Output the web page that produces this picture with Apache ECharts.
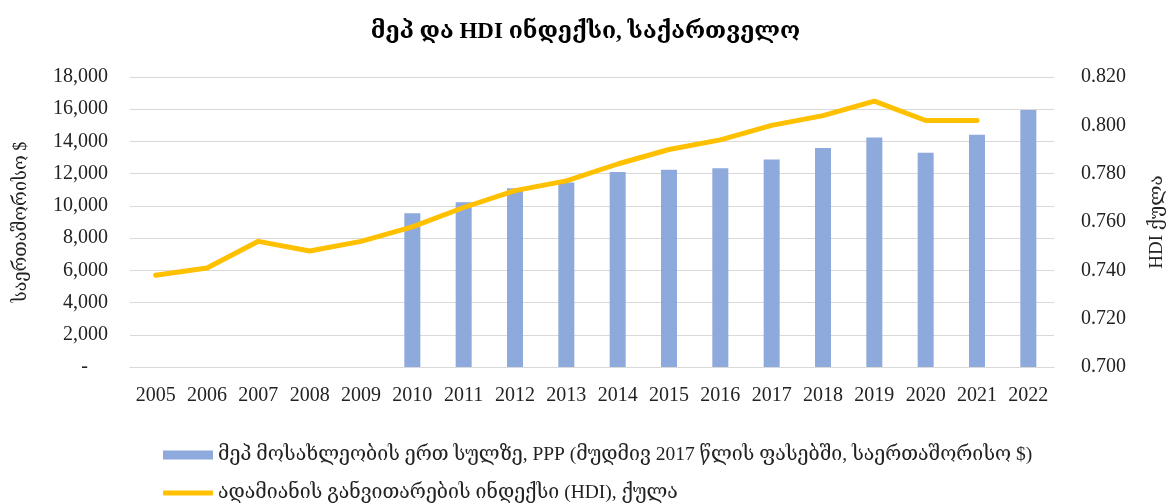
<!DOCTYPE html>
<html>
<head>
<meta charset="utf-8">
<script src="https://cdn.jsdelivr.net/npm/echarts@6/dist/echarts.min.js"></script>
<style>html,body{margin:0;padding:0;background:#fff}#c{width:1171px;height:504px}</style>
</head>
<body>
<div id="c"></div>
<script>
const years = ['2005','2006','2007','2008','2009','2010','2011','2012','2013','2014','2015','2016','2017','2018','2019','2020','2021','2022'];
const gdpPerCapita = [null,null,null,null,null,9550,10230,11100,11450,12100,12250,12330,12880,13600,14250,13300,14420,15950];
const hdi = [0.738,0.741,0.752,0.748,0.752,0.758,0.766,0.773,0.777,0.784,0.790,0.794,0.800,0.804,0.810,0.802,0.802,null];
const titleText = 'მეპ და HDI ინდექსი, საქართველო';
const barName = 'მეპ მოსახლეობის ერთ სულზე, PPP (მუდმივ 2017 წლის ფასებში, საერთაშორისო $)';
const lineName = 'ადამიანის განვითარების ინდექსი (HDI), ქულა';
const leftAxisName = 'საერთაშორისო $';
const rightAxisName = 'HDI ქულა';

const FONT = "'Liberation Serif', 'DejaVu Serif', serif";
const chart = echarts.init(document.getElementById('c'), null, {renderer: 'canvas'});
chart.setOption({
  animation: false,
  backgroundColor: '#fff',
  textStyle: {fontFamily: FONT},
  title: {
    text: titleText, left: 'center', top: 16,
    textStyle: {fontFamily: FONT, fontSize: 23, fontWeight: 'bold', color: '#000'}
  },
  grid: {left: 130, right: 117, top: 77, bottom: 137, containLabel: false, outerBoundsMode: 'none'},
  legend: [
    {
      data: [{name: barName, icon: 'rect'}],
      left: 158, top: 440, itemWidth: 50, itemHeight: 9,
      textStyle: {fontFamily: FONT, fontSize: 19.5, color: '#222'}
    },
    {
      data: [{name: lineName, icon: 'roundRect'}],
      left: 158, top: 478, itemWidth: 50, itemHeight: 5,
      textStyle: {fontFamily: FONT, fontSize: 19.5, color: '#222'}
    }
  ],
  xAxis: {
    type: 'category', data: years,
    axisTick: {show: false},
    axisLine: {lineStyle: {color: '#D9D9D9', width: 1}},
    axisLabel: {fontFamily: FONT, fontSize: 20, color: '#222', margin: 19, interval: 0, hideOverlap: false}
  },
  yAxis: [
    {
      type: 'value', min: 0, max: 18000, interval: 2000,
      name: leftAxisName, nameLocation: 'middle', nameRotate: 90, nameGap: 100,
      nameTextStyle: {fontFamily: FONT, fontSize: 18, color: '#222'},
      axisLine: {show: false}, axisTick: {show: false},
      splitLine: {lineStyle: {color: '#D9D9D9', width: 1}},
      axisLabel: {
        fontFamily: FONT, fontSize: 20, color: '#222', margin: 22,
        formatter: v => v === 0 ? '-    ' : v.toLocaleString('en-US')
      }
    },
    {
      type: 'value', min: 0.70, max: 0.82, interval: 0.02,
      name: rightAxisName, nameLocation: 'middle', nameRotate: 90, nameGap: 94,
      nameTextStyle: {fontFamily: FONT, fontSize: 19, color: '#222'},
      axisLine: {show: false}, axisTick: {show: false},
      splitLine: {show: false},
      axisLabel: {
        fontFamily: FONT, fontSize: 20, color: '#222', margin: 27,
        formatter: v => v.toFixed(3)
      }
    }
  ],
  series: [
    {
      name: barName, type: 'bar', data: gdpPerCapita, yAxisIndex: 0,
      barWidth: 16, itemStyle: {color: '#8EA9DB'}
    },
    {
      name: lineName, type: 'line', data: hdi, yAxisIndex: 1,
      showSymbol: false, symbol: 'none',
      lineStyle: {color: '#FFC000', width: 5, cap: 'round', join: 'round'},
      itemStyle: {color: '#FFC000'}
    }
  ]
});
</script>
</body>
</html>
